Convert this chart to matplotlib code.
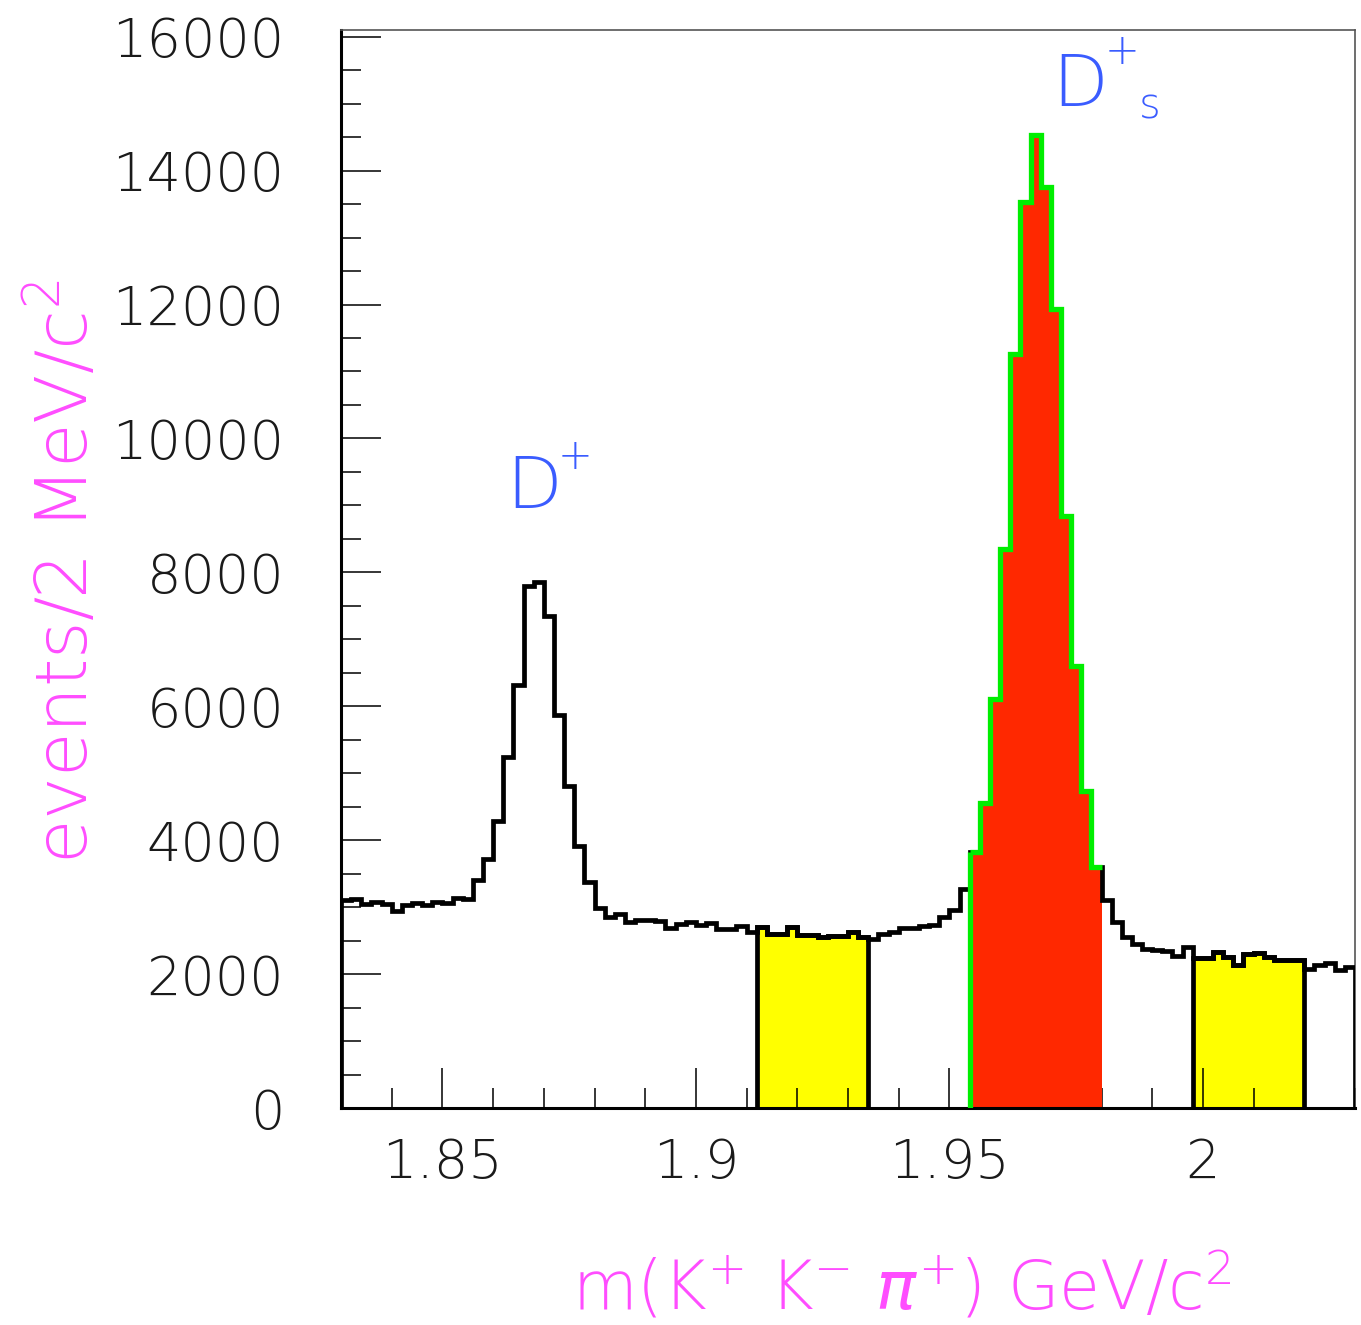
import numpy as np
import matplotlib
matplotlib.use("Agg")
import matplotlib.pyplot as plt
from matplotlib.ticker import MultipleLocator, FixedLocator, FixedFormatter

plt.rcParams["mathtext.fontset"] = "custom"
plt.rcParams["mathtext.rm"] = "DejaVu Sans:light"
plt.rcParams["mathtext.it"] = "DejaVu Sans:style=oblique:weight=normal"
plt.rcParams["mathtext.default"] = "regular"

# ---------------- data ----------------
mass_low, mass_high, n_bins = 1.83, 2.03, 100   # GeV/c^2, 2 MeV bins
counts = [
    3110, 3120, 3050, 3075, 3050, 2945, 3035, 3060, 3030, 3070,
    3060, 3140, 3120, 3400, 3720, 4290, 5240, 6315, 7790, 7860,
    7350, 5870, 4810, 3920, 3380, 2990, 2850, 2890, 2780, 2805,
    2805, 2795, 2685, 2755, 2775, 2735, 2760, 2670, 2670, 2725,
    2635, 2700, 2595, 2595, 2700, 2585, 2585, 2550, 2575, 2575,
    2635, 2560, 2520, 2595, 2635, 2685, 2685, 2725, 2735, 2860,
    2955, 3270, 3830, 4550, 6110, 8350, 11260, 13525, 14525, 13750,
    11930, 8845, 6595, 4740, 3605, 3100, 2775, 2560, 2445, 2370,
    2360, 2345, 2270, 2410, 2235, 2235, 2325, 2250, 2135, 2300,
    2310, 2260, 2210, 2210, 2210, 2070, 2135, 2170, 2060, 2100,
]
sideband_left = (1.912, 1.934)
signal_window = (1.954, 1.980)
sideband_right = (1.998, 2.020)

x_ticks = [1.85, 1.90, 1.95, 2.00]
x_tick_labels = ["1.85", "1.9", "1.95", "2"]
y_ticks = [0, 2000, 4000, 6000, 8000, 10000, 12000, 14000, 16000]
y_tick_labels = [str(v) for v in y_ticks]

x_title = r"m(K$^{+}$ K$^{-}$ $\mathit{\pi}^{+}$) GeV/c$^{2}$"
y_title = r"events/2 MeV/c$^{2}$"

# ---------------- derived ----------------
counts = np.asarray(counts, dtype=float)
edges = np.linspace(mass_low, mass_high, n_bins + 1)
centers = 0.5 * (edges[:-1] + edges[1:])


def window(lo, hi):
    idx = np.where((centers > lo) & (centers < hi))[0]
    return idx[0], idx[-1] + 1


W, H = 1361, 1325
fig = plt.figure(figsize=(W / 100, H / 100), dpi=100)
ax = fig.add_axes([341 / W, 1 - 1108 / H, 1014 / W, 1078 / H])

LW = 3.4
YELLOW = "#ffff00"
RED = "#ff2800"
GREEN = "#00ee00"
MAGENTA = "#ff4dff"
BLUE = "#3a5cff"

# sidebands (yellow, black outline down to 0)
for lo, hi in (sideband_left, sideband_right):
    i0, i1 = window(lo, hi)
    ax.stairs(counts[i0:i1], edges[i0:i1 + 1], baseline=0, fill=True,
              color=YELLOW, zorder=1)
    ax.stairs(counts[i0:i1], edges[i0:i1 + 1], baseline=0, fill=False,
              color="black", lw=LW, zorder=3)

# signal window (red fill)
s0, s1 = window(*signal_window)
ax.stairs(counts[s0:s1], edges[s0:s1 + 1], baseline=0, fill=True,
          color=RED, zorder=2)

# full histogram
ax.stairs(counts, edges, baseline=0, fill=False, color="black", lw=LW, zorder=3)

# green outline of signal window
ax.stairs(counts[s0:s1], edges[s0:s1 + 1], baseline=None, fill=False,
          color=GREEN, lw=LW + 0.4, zorder=4)
ax.vlines(edges[s0], 0, counts[s0], color=GREEN, lw=LW + 0.4, zorder=4)

# ---------------- axes styling ----------------
ax.set_xlim(mass_low, mass_high)
ax.set_ylim(0, 16100)

ax.xaxis.set_major_locator(FixedLocator(x_ticks))
ax.xaxis.set_major_formatter(FixedFormatter(x_tick_labels))
ax.xaxis.set_minor_locator(MultipleLocator(0.01))
ax.yaxis.set_major_locator(FixedLocator(y_ticks))
ax.yaxis.set_major_formatter(FixedFormatter(y_tick_labels))
ax.yaxis.set_minor_locator(MultipleLocator(500))

ax.tick_params(which="both", direction="in", top=False, right=False,
               colors="black", labelcolor="#1a1a1a")
ax.tick_params(which="major", length=29, width=1.1)
ax.tick_params(which="minor", length=14.5, width=1.1)
ax.tick_params(axis="y", which="major", pad=41, labelsize=39)
ax.tick_params(axis="x", which="major", pad=21, labelsize=39)
for lab in ax.get_xticklabels() + ax.get_yticklabels():
    lab.set_fontweight("light")

for side in ("left", "bottom"):
    ax.spines[side].set_linewidth(2.2)
    ax.spines[side].set_color("black")
for side in ("top", "right"):
    ax.spines[side].set_linewidth(1.2)
    ax.spines[side].set_color("#555555")

# ---------------- titles & labels ----------------
fig.text(1232 / W, 1 - 1310 / H, x_title, ha="right", va="baseline",
         color=MAGENTA, fontsize=48, fontweight="light")
fig.text(65 / W, 1 - 572 / H, y_title, ha="center", va="center",
         rotation=90, color=MAGENTA, fontsize=52, fontweight="light")

# peak labels
ax.text(0.1627, 0.5566, "D", transform=ax.transAxes, color=BLUE,
        fontsize=52, ha="left", va="baseline", fontweight="light")
ax.text(0.2308, 0.6048, "+", transform=ax.transAxes, color=BLUE,
        fontsize=30, ha="center", va="center", fontweight="light")
ax.text(0.7012, 0.9295, "D", transform=ax.transAxes, color=BLUE,
        fontsize=52, ha="left", va="baseline", fontweight="light")
ax.text(0.7703, 0.9805, "+", transform=ax.transAxes, color=BLUE,
        fontsize=30, ha="center", va="center", fontweight="light")
ax.text(0.7979, 0.9295, "s", transform=ax.transAxes, color=BLUE,
        fontsize=30, ha="center", va="center", fontweight="light")

fig.savefig("out.png", dpi=100, facecolor="white")
